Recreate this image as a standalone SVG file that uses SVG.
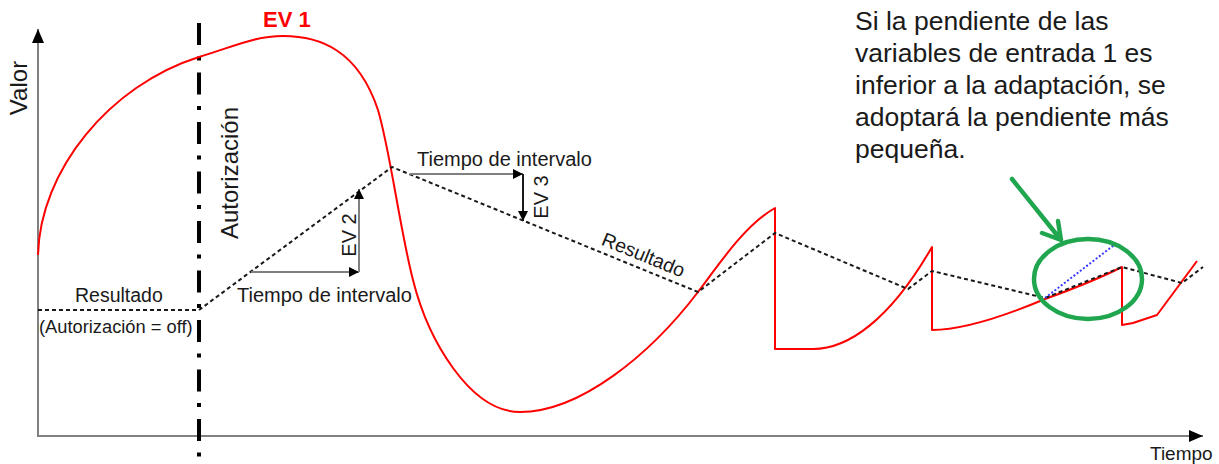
<svg xmlns="http://www.w3.org/2000/svg" width="1219" height="464" viewBox="0 0 1219 464">
  <defs>
    <style>
      text { font-family: "Liberation Sans", Arial, sans-serif; fill: #1a1a1a; }
      .lbl { font-size: 20px; }
      .big { font-size: 24px; }
      .note { font-size: 26.5px; }
      .axis { stroke: #808080; stroke-width: 2; fill: none; }
      .ev1 { stroke: #ff0000; stroke-width: 2; fill: none; stroke-linejoin: round; }
      .res { stroke: #1a1a1a; stroke-width: 2; fill: none; stroke-dasharray: 4 3; }
      .gray { stroke: #7f7f7f; stroke-width: 2; fill: none; }
      .dark { stroke: #1a1a1a; stroke-width: 2; fill: none; }
      .green { stroke: #21a650; stroke-width: 4.5; fill: none; stroke-linecap: round; stroke-linejoin: round; }
    </style>
    <marker id="ah" viewBox="0 0 10 10" refX="10" refY="5" markerWidth="10" markerHeight="10" markerUnits="userSpaceOnUse" orient="auto">
      <path d="M0,0 L10,5 L0,10 Z" fill="#000"/>
    </marker>
    <marker id="ahAxis" viewBox="0 0 14 12" refX="14" refY="6" markerWidth="14" markerHeight="12" markerUnits="userSpaceOnUse" orient="auto">
      <path d="M0,0 L14,6 L0,12 Z" fill="#000"/>
    </marker>
  </defs>

  <g id="axes">
    <line class="axis" x1="38" y1="436" x2="38" y2="29" marker-end="url(#ahAxis)"/>
    <line class="axis" x1="37" y1="436" x2="1203" y2="436" marker-end="url(#ahAxis)"/>
    <text class="big" transform="translate(27,88) rotate(-90)" text-anchor="middle">Valor</text>
    <text font-size="19" x="1150" y="460">Tiempo</text>
  </g>

  <g id="autorizacion">
    <line x1="199" y1="23" x2="199" y2="462" stroke="#000" stroke-width="4" stroke-dasharray="22 11.5 4 12"/>
    <text class="big" transform="translate(238,173) rotate(-90)" text-anchor="middle">Autorización</text>
  </g>

  <g id="ev1">
    <path class="ev1" d="M38,255 C40,170 110,85 199,57 C235,46 255,36 283,36 C320,36 358,50 378,110 C390,150 400,230 413,280 C428,340 470,412 520,412 C580,412 650,355 698,292 C720,263 745,225 775,208 L775,349 L813,349 C848,349 890,320 932,247 L932,330 C962,330 1000,318 1045,299 C1070,290 1100,278 1122,267 L1122,325 L1133,323 L1157,315 L1197,261"/>
    <text x="263" y="27" font-size="22" font-weight="bold" style="fill:#ff0000">EV 1</text>
  </g>

  <g id="resultado">
    <path class="res" d="M38,310 L199,310 L392,167 L698,292 L775,233 L908,289 L932,271 L1045,298 L1122,267 L1182,283 L1203,267"/>
    <text font-size="19.5" x="75" y="302">Resultado</text>
    <text font-size="18.3" x="39" y="333">(Autorización = off)</text>
    <text font-size="19.5" transform="translate(641,261) rotate(22.2)" text-anchor="middle">Resultado</text>
  </g>

  <g id="connectors">
    <line class="gray" x1="251" y1="272" x2="359" y2="272" marker-end="url(#ah)"/>
    <line class="gray" x1="359" y1="272" x2="359" y2="189" marker-end="url(#ah)"/>
    <line class="gray" x1="410" y1="174" x2="523" y2="174" marker-end="url(#ah)"/>
    <line class="dark" x1="523" y1="174" x2="523" y2="221" marker-end="url(#ah)"/>
  </g>

  <g id="ev2-label">
    <text class="lbl" transform="translate(356,235) rotate(-90)" text-anchor="middle">EV 2</text>
    <text class="lbl" x="237" y="302">Tiempo de intervalo</text>
  </g>

  <g id="ev3-label">
    <text class="lbl" transform="translate(548,197) rotate(-90)" text-anchor="middle">EV 3</text>
    <text class="lbl" x="417" y="166">Tiempo de intervalo</text>
  </g>

  <g id="highlight">
    <line x1="1045" y1="298" x2="1118" y2="242" stroke="#3a3aff" stroke-width="2" stroke-dasharray="2 2"/>
    <ellipse class="green" cx="1088" cy="279" rx="54" ry="40"/>
    <path class="green" d="M1012,179 L1061,240 M1042,233 L1061,240 L1058,221"/>
  </g>

  <g id="note">
    <text class="note" x="855" y="30">Si la pendiente de las</text>
    <text class="note" x="855" y="62">variables de entrada 1 es</text>
    <text class="note" x="855" y="94">inferior a la adaptación, se</text>
    <text class="note" x="855" y="126">adoptará la pendiente más</text>
    <text class="note" x="855" y="158">pequeña.</text>
  </g>
</svg>
